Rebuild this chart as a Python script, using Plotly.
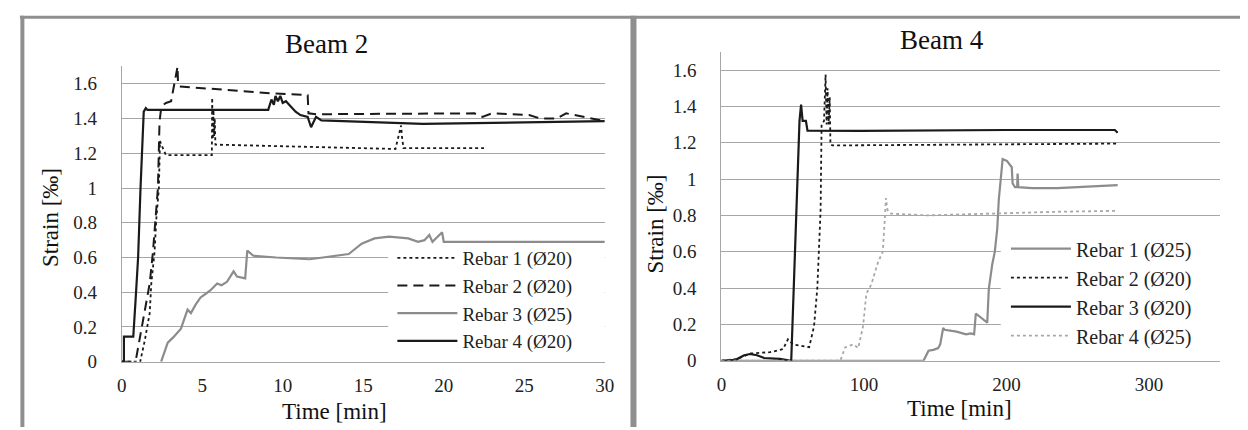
import plotly.graph_objects as go

# ---------------- Beam 2 data (time [min], strain [‰]) ----------------
b2_r1_t = [0.0, 0.9, 1.15, 1.43, 1.74, 1.84, 2.04, 2.15, 2.31, 2.38, 2.45, 2.6, 2.75, 5.6, 5.62, 5.66, 5.7, 5.74, 5.78, 5.82, 17.0, 17.35, 17.4, 17.5, 22.5]
b2_r1_s = [0.0, 0.0, 0.0, 0.12, 0.28, 0.45, 0.63, 0.82, 1.0, 1.27, 1.25, 1.22, 1.19, 1.19, 1.52, 1.28, 1.45, 1.3, 1.4, 1.25, 1.225, 1.36, 1.3, 1.23, 1.23]

b2_r2_t = [0.0, 0.6, 0.9, 1.12, 1.43, 1.74, 1.94, 2.15, 2.25, 2.35, 2.45, 2.6, 2.75, 3.07, 3.27, 3.3, 3.47, 3.5, 3.6, 9.4, 11.55, 11.6, 12.1, 21.9, 22.4, 23.0, 25.3, 26.0, 27.0, 27.6, 28.6, 29.7, 30.0]
b2_r2_s = [0.0, 0.0, 0.02, 0.13, 0.3, 0.45, 0.63, 0.86, 1.0, 1.38, 1.46, 1.48, 1.49, 1.5, 1.6, 1.6, 1.7, 1.6, 1.585, 1.545, 1.535, 1.43, 1.425, 1.43, 1.41, 1.43, 1.42, 1.40, 1.40, 1.43, 1.41, 1.39, 1.385]

b2_r3_t = [2.45, 2.86, 3.2, 3.5, 3.68, 4.09, 4.3, 4.6, 4.9, 5.2, 5.5, 5.93, 6.2, 6.54, 6.95, 7.16, 7.67, 7.8, 8.18, 9.6, 11.66, 12.5, 14.1, 14.9, 15.7, 16.6, 17.8, 18.4, 18.8, 19.1, 19.3, 19.9, 20.0, 30.0]
b2_r3_s = [0.0, 0.11, 0.14, 0.17, 0.19, 0.30, 0.28, 0.33, 0.37, 0.39, 0.41, 0.45, 0.44, 0.46, 0.52, 0.49, 0.48, 0.64, 0.61, 0.60, 0.59, 0.60, 0.62, 0.68, 0.71, 0.72, 0.71, 0.69, 0.70, 0.73, 0.69, 0.745, 0.69, 0.69]

b2_r4_t = [0.0, 0.14, 0.14, 0.72, 0.86, 1.02, 1.17, 1.3, 1.37, 1.5, 1.6, 9.1, 9.3, 9.45, 9.55, 9.7, 9.85, 10.0, 10.2, 10.5, 10.8, 11.1, 11.55, 11.76, 12.07, 12.4, 15.0, 18.7, 30.0]
b2_r4_s = [0.0, 0.0, 0.144, 0.144, 0.35, 0.6, 1.0, 1.35, 1.44, 1.46, 1.45, 1.45, 1.51, 1.48, 1.53, 1.50, 1.53, 1.49, 1.50, 1.47, 1.44, 1.42, 1.41, 1.35, 1.41, 1.39, 1.38, 1.37, 1.385]

# ---------------- Beam 4 data ----------------
b4_r1_t = [0.0, 141.8, 145.3, 148.7, 152.1, 153.5, 155.6, 156.7, 165.0, 171.6, 175.0, 177.3, 178.5, 186.5, 187.6, 190.0, 191.8, 193.5, 194.6, 196.2, 197.3, 200.3, 203.7, 204.3, 206.0, 207.5, 207.8, 208.3, 218.0, 235.7, 278.0]
b4_r1_s = [0.0, 0.0, 0.055, 0.06, 0.07, 0.09, 0.18, 0.17, 0.16, 0.145, 0.15, 0.145, 0.26, 0.21, 0.395, 0.53, 0.60, 0.725, 0.886, 1.01, 1.11, 1.10, 1.065, 0.976, 0.955, 0.955, 1.03, 0.955, 0.95, 0.95, 0.967]

b4_r2_t = [0.0, 11.2, 20.4, 34.2, 43.3, 46.7, 50.2, 61.6, 65.0, 67.3, 69.6, 70.3, 72.0, 73.1, 73.8, 74.5, 75.2, 76.0, 76.5, 78.0, 278.0]
b4_r2_s = [0.0, 0.01, 0.04, 0.047, 0.064, 0.118, 0.09, 0.075, 0.19, 0.40, 0.83, 1.30, 1.32, 1.575, 1.3, 1.5, 1.3, 1.45, 1.19, 1.185, 1.195]

b4_r3_t = [0.0, 10.0, 16.0, 20.0, 25.0, 30.0, 41.0, 49.0, 54.8, 55.9, 57.0, 59.3, 60.4, 98.0, 200.0, 276.0, 278.0]
b4_r3_s = [0.0, 0.005, 0.03, 0.037, 0.03, 0.015, 0.01, 0.0, 1.32, 1.41, 1.32, 1.32, 1.266, 1.265, 1.27, 1.27, 1.255]

b4_r4_t = [0.0, 83.4, 86.8, 92.5, 96.0, 99.4, 101.7, 105.2, 109.8, 113.2, 114.8, 115.4, 116.5, 118.9, 144.0, 190.0, 236.0, 278.0]
b4_r4_s = [0.0, 0.0, 0.073, 0.09, 0.07, 0.19, 0.37, 0.42, 0.54, 0.60, 0.80, 0.895, 0.83, 0.81, 0.80, 0.81, 0.82, 0.825]

y_ticks = [0, 0.2, 0.4, 0.6, 0.8, 1.0, 1.2, 1.4, 1.6]
y_ticktext = ["0", "0.2", "0.4", "0.6", "0.8", "1", "1.2", "1.4", "1.6"]
x2_ticks = [0, 5, 10, 15, 20, 25, 30]
x4_ticks = [0, 100, 200, 300]

BLACK = "#1a1a1a"
GRAY = "#8c8c8c"
LGRAY = "#a8a8a8"
GRID = "#a6a6a6"
FONT = "Liberation Serif, Times New Roman, Times, DejaVu Serif, serif"

W, H = 1248, 430

fig = go.Figure()

# Beam 2 traces
fig.add_trace(go.Scatter(x=b2_r1_t, y=b2_r1_s, mode="lines", name="Rebar 1 (Ø20)",
                         line=dict(color=BLACK, width=1.8, dash="dot"), xaxis="x", yaxis="y", legend="legend"))
fig.add_trace(go.Scatter(x=b2_r2_t, y=b2_r2_s, mode="lines", name="Rebar 2 (Ø20)",
                         line=dict(color=BLACK, width=2, dash="10px,6px"), xaxis="x", yaxis="y", legend="legend"))
fig.add_trace(go.Scatter(x=b2_r3_t, y=b2_r3_s, mode="lines", name="Rebar 3 (Ø25)",
                         line=dict(color=GRAY, width=2.2), xaxis="x", yaxis="y", legend="legend"))
fig.add_trace(go.Scatter(x=b2_r4_t, y=b2_r4_s, mode="lines", name="Rebar 4 (Ø20)",
                         line=dict(color=BLACK, width=2.2), xaxis="x", yaxis="y", legend="legend"))

# Beam 4 traces
fig.add_trace(go.Scatter(x=b4_r1_t, y=b4_r1_s, mode="lines", name="Rebar 1 (Ø25)",
                         line=dict(color=GRAY, width=2.2), xaxis="x2", yaxis="y2", legend="legend2"))
fig.add_trace(go.Scatter(x=b4_r2_t, y=b4_r2_s, mode="lines", name="Rebar 2 (Ø20)",
                         line=dict(color=BLACK, width=1.8, dash="dot"), xaxis="x2", yaxis="y2", legend="legend2"))
fig.add_trace(go.Scatter(x=b4_r3_t, y=b4_r3_s, mode="lines", name="Rebar 3 (Ø20)",
                         line=dict(color=BLACK, width=2.2), xaxis="x2", yaxis="y2", legend="legend2"))
fig.add_trace(go.Scatter(x=b4_r4_t, y=b4_r4_s, mode="lines", name="Rebar 4 (Ø25)",
                         line=dict(color=LGRAY, width=1.8, dash="dot"), xaxis="x2", yaxis="y2", legend="legend2"))

def px_x(p):
    return p / W

def px_y(p):
    return 1 - p / H

tickfont = dict(family=FONT, size=19, color="#222")

common_x = dict(showgrid=False, zeroline=False, showline=True, linecolor=GRID, linewidth=1,
                ticks="", tickfont=tickfont, ticklabelstandoff=6, fixedrange=True)
common_y = dict(showgrid=True, gridcolor=GRID, gridwidth=1, zeroline=False, showline=True,
                linecolor=GRID, linewidth=1, ticks="", tickfont=tickfont, ticklabelstandoff=20,
                tickvals=y_ticks, ticktext=y_ticktext, range=[0, 1.7], fixedrange=True)

legend_common = dict(bgcolor="rgba(0,0,0,0)", borderwidth=0,
                     itemwidth=60, tracegroupgap=0, xanchor="left", yanchor="top", traceorder="normal")

fig.update_layout(
    width=W, height=H,
    margin=dict(l=0, r=0, t=0, b=0),
    paper_bgcolor="white", plot_bgcolor="white",
    font=dict(family=FONT),
    showlegend=True,
    xaxis=dict(domain=[px_x(110), px_x(599)], range=[0, 30], tickvals=x2_ticks, anchor="y", **common_x),
    yaxis=dict(domain=[px_y(363), px_y(60)], anchor="x", **common_y),
    xaxis2=dict(domain=[px_x(717), px_x(1222)], range=[0, 350], tickvals=x4_ticks, anchor="y2", **common_x),
    yaxis2=dict(domain=[px_y(362), px_y(45)], anchor="x2", **common_y),
    legend=dict(x=px_x(384), y=px_y(237), font=dict(family=FONT, size=19, color="#222"), **legend_common),
    legend2=dict(x=px_x(1005), y=px_y(227), font=dict(family=FONT, size=20, color="#222"), **legend_common),
)

ann_font_title = dict(family=FONT, size=27, color="#111")
ann_font_axis = dict(family=FONT, size=23, color="#111")

annotations = [
    dict(text="Beam 2", x=px_x(317), y=px_y(37), xref="paper", yref="paper", showarrow=False,
         font=ann_font_title, xanchor="center", yanchor="middle"),
    dict(text="Beam 4", x=px_x(940), y=px_y(33), xref="paper", yref="paper", showarrow=False,
         font=ann_font_title, xanchor="center", yanchor="middle"),
    dict(text="Time [min]", x=px_x(325), y=px_y(414), xref="paper", yref="paper", showarrow=False,
         font=ann_font_axis, xanchor="center", yanchor="middle"),
    dict(text="Time [min]", x=px_x(958), y=px_y(411), xref="paper", yref="paper", showarrow=False,
         font=ann_font_axis, xanchor="center", yanchor="middle"),
    dict(text="Strain [‰]", x=px_x(38), y=px_y(215), xref="paper", yref="paper", showarrow=False,
         font=ann_font_axis, xanchor="center", yanchor="middle", textangle=-90),
    dict(text="Strain [‰]", x=px_x(650), y=px_y(222), xref="paper", yref="paper", showarrow=False,
         font=ann_font_axis, xanchor="center", yanchor="middle", textangle=-90),
]
fig.update_layout(annotations=annotations)

BORDER = "#8f8f8f"
# legend background boxes, in axis units of each panel (drawn between gridlines and traces)
leg2_box_x = [16.55, 30.0]
leg2_box_y = [0.062, 0.673]
leg4_box_x = [196.0, 350.0]
leg4_box_y = [0.054, 0.69]

shapes = [
    dict(type="rect", xref="x", yref="y", layer="between",
         x0=leg2_box_x[0], x1=leg2_box_x[1], y0=leg2_box_y[0], y1=leg2_box_y[1],
         fillcolor="white", line=dict(width=0)),
    dict(type="rect", xref="x2", yref="y2", layer="between",
         x0=leg4_box_x[0], x1=leg4_box_x[1], y0=leg4_box_y[0], y1=leg4_box_y[1],
         fillcolor="white", line=dict(width=0)),
    # panel borders
    dict(type="line", xref="paper", yref="paper", x0=px_x(7), x1=1, y0=px_y(9.5), y1=px_y(9.5),
         line=dict(color=BORDER, width=3)),
    dict(type="line", xref="paper", yref="paper", x0=px_x(9.5), x1=px_x(9.5), y0=px_y(8), y1=0,
         line=dict(color=BORDER, width=4)),
    dict(type="line", xref="paper", yref="paper", x0=px_x(628), x1=px_x(628), y0=px_y(8), y1=0,
         line=dict(color=BORDER, width=6)),
]
fig.update_layout(shapes=shapes)

fig.write_html("out.html")
